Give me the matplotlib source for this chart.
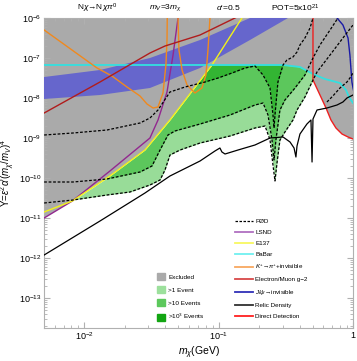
import numpy as np
import matplotlib
matplotlib.use("Agg")
import matplotlib.pyplot as plt
from matplotlib.patches import Patch
from matplotlib.lines import Line2D

plt.rcParams['font.family'] = ['Liberation Sans', 'DejaVu Sans']
plt.rcParams['mathtext.fontset'] = 'custom'
plt.rcParams['mathtext.rm'] = 'Liberation Sans'
plt.rcParams['mathtext.it'] = 'Liberation Sans:italic'

# ---- data (log10 of m_chi [GeV], log10 of Y) ----
lsnd_logm = [-2.30, -2.09, -1.81, -1.512, -1.452, -1.385, -1.34, -1.303, -1.29]
lsnd_logY = [-11.0, -10.575, -9.825, -9.0, -8.55, -7.85, -6.925, -6.0, -5.5]

e137_logm = [-2.30, -2.09, -1.81, -1.549, -1.363, -1.05, -0.827, -0.78]
e137_logY = [-10.85, -10.575, -9.95, -9.3, -8.55, -7.175, -6.0, -5.7]

babar_logm = [-2.30, -0.521, -0.395, -0.298, -0.209, -0.097, -0.052, -0.030, 0.0]
babar_logY = [-7.175, -7.175, -7.225, -7.4, -7.525, -7.625, -7.8, -7.975, -8.125]

kaon_logm = [-2.30, -1.906, -1.795, -1.683, -1.586, -1.534, -1.489, -1.452, -1.415, -1.393,
             -1.385, -1.383, -1.34, -1.303, -1.296, -1.273, -1.236, -1.177, -1.125, -1.095,
             -1.080, -1.065, -1.06]
kaon_logY = [-6.3, -7.25, -7.45, -7.725, -7.95, -8.15, -8.25, -8.225, -7.875, -7.175,
             -6.55, -6.0, -5.3, -6.0, -6.8, -7.3, -7.675, -7.875, -7.75, -7.425,
             -6.8, -6.0, -5.7]

gm2_logm = [-2.30, -1.884, -1.512, -1.400, -1.139, -0.879, -0.85]
gm2_logY = [-8.375, -7.6, -6.875, -6.7, -6.425, -6.0, -5.95]

band_up_logm = [-2.30, -1.884, -1.512, -1.139, -0.767, -0.6]
band_up_logY = [-7.475, -7.3, -7.0, -6.55, -6.0, -5.6]
band_lo_logm = [-2.30, -1.884, -1.512, -1.139, -0.767, -0.484, -0.4]
band_lo_logY = [-8.025, -7.925, -7.75, -7.25, -6.55, -6.0, -5.8]

jpsi_logm = [-0.16, -0.119, -0.075, -0.037, -0.023, -0.008, 0.0, 0.01]
jpsi_logY = [-5.7, -6.0, -6.175, -6.5, -6.925, -7.6, -7.75, -7.9]

dd_logm = [-0.298, -0.298, -0.246, -0.201, -0.164, -0.127, -0.082, -0.037, 0.0]
dd_logY = [-5.9, -7.55, -7.925, -8.25, -8.55, -8.75, -8.9, -8.975, -9.025]

relic_logm = [-2.30, -1.884, -1.549, -1.363, -1.139, -1.028, -0.991, -0.976, -0.953, -0.856,
              -0.730, -0.618, -0.521, -0.469, -0.439, -0.425, -0.417, -0.395, -0.343, -0.313,
              -0.305, -0.298, -0.268, -0.194, -0.119, -0.075, -0.045, 0.0]
relic_logY = [-11.925, -11.075, -10.375, -9.95, -9.575, -9.325, -9.25, -9.35, -9.4, -9.3,
              -9.175, -9.0, -8.975, -9.1, -9.25, -9.475, -9.2, -8.9, -8.65, -8.55,
              -9.6, -8.525, -8.3, -8.25, -8.175, -8.1, -8.0, -7.925]

pod1000_logm = [-2.30, -2.085, -1.832, -1.586, -1.512, -1.452, -1.363, -1.251, -1.102, -1.005,
                -0.901, -0.804, -0.730, -0.670, -0.618, -0.596, -0.588, -0.581, -0.559, -0.521,
                -0.492, -0.447, -0.417, -0.395, -0.358, -0.320, -0.298, -0.276]
pod1000_logY = [-8.925, -8.875, -8.8, -8.625, -8.5, -8.3, -7.85, -7.725, -7.6, -7.5,
                -7.375, -7.25, -7.2, -7.425, -7.75, -8.425, -8.75, -8.425, -7.6, -7.175,
                -7.05, -6.975, -6.85, -6.675, -6.5, -6.25, -6.0, -5.8]

pod10_logm = [-2.30, -2.085, -1.832, -1.586, -1.497, -1.437, -1.378, -1.326, -1.139, -0.916,
              -0.730, -0.670, -0.633, -0.603, -0.588, -0.574, -0.544, -0.507, -0.432, -0.358,
              -0.298, -0.246, -0.171, -0.112, -0.082]
pod10_logY = [-10.1, -10.1, -10.025, -9.85, -9.7, -9.3, -8.925, -8.825, -8.65, -8.425,
              -8.175, -8.125, -8.425, -9.05, -9.55, -9.05, -8.3, -8.05, -7.75, -7.425,
              -7.0, -6.675, -6.3, -6.0, -5.8]

pod1_logm = [-2.30, -2.085, -1.832, -1.661, -1.512, -1.437, -1.400, -1.363, -1.288, -1.139,
             -0.916, -0.730, -0.655, -0.618, -0.596, -0.581, -0.566, -0.544, -0.507, -0.447,
             -0.417, -0.358, -0.298, -0.268, -0.171, -0.075, 0.0]
pod1_logY = [-10.625, -10.55, -10.425, -10.35, -10.175, -10.05, -9.8, -9.425, -9.3, -9.125,
             -8.95, -8.75, -8.7, -9.05, -9.675, -10.075, -9.625, -9.05, -8.85, -8.55,
             -8.3, -7.975, -7.55, -7.35, -6.925, -6.5, -6.175]

pod_hi_logm = [-0.194, -0.150, -0.097, -0.045, -0.023, 0.0]
pod_hi_logY = [-8.1, -7.95, -7.75, -7.6, -7.5, -7.375]

header_texts = [r"N$\chi$→N$\chi\pi^0$", r"$m_V$=3$m_\chi$", r"$\alpha$'=0.5", r"POT=5x10$^{21}$"]
xtick_vals = [0.01, 0.1, 1.0]
xtick_labels = [r"$10^{-2}$", r"$10^{-1}$", "1"]

# ---- colors ----
c_grey = '#aaaaaa'
c_g1 = '#98dc98'
c_g10 = '#5cc75c'
c_g1000 = '#33b533'
c_band = '#6666cc'

fig = plt.figure(figsize=(3.57, 3.61), dpi=100)
ax = fig.add_axes([44/357, 1-328/361, 309/357, 310/361])
ax.set_xscale('log')
ax.set_yscale('log')
xmin, xmax = 10**-2.301, 1.0
ymin, ymax = 10**-13.75, 1e-6
ax.set_xlim(xmin, xmax)
ax.set_ylim(ymin, ymax)

xg = np.linspace(-2.301, 0.0, 3000)
INF = 5.0

def curve(lm, ly):
    lm = np.asarray(lm); ly = np.asarray(ly)
    return np.interp(xg, lm, ly, left=INF, right=INF)

G = np.minimum.reduce([
    curve(lsnd_logm, lsnd_logY),
    curve(e137_logm, e137_logY),
    curve(babar_logm, babar_logY),
    curve(dd_logm[1:], dd_logY[1:]),
])

X = 10**xg
ax.fill_between(X, 10**G, 1e-4, color=c_grey, lw=0, zorder=1)

for lm, ly, c in [(pod1_logm, pod1_logY, c_g1), (pod10_logm, pod10_logY, c_g10),
                  (pod1000_logm, pod1000_logY, c_g1000)]:
    C = np.interp(xg, lm, ly, left=INF, right=INF)
    ax.fill_between(X, 10**C, 10**G, where=C < G, interpolate=True, color=c, lw=0, zorder=2)

bu = np.interp(xg, band_up_logm, band_up_logY, right=INF)
bl = np.interp(xg, band_lo_logm, band_lo_logY, right=INF)
ax.fill_between(X, 10**bl, 10**bu, color=c_band, lw=0, zorder=3)

def p(lm, ly, **kw):
    ax.plot(10**np.asarray(lm), 10**np.asarray(ly), **kw)

dash = dict(color='black', lw=0.9, ls=(0, (2.2, 1.4)), zorder=6)
p(pod1_logm, pod1_logY, **dash)
p(pod10_logm, pod10_logY, **dash)
p(pod1000_logm, pod1000_logY, **dash)
p(pod_hi_logm, pod_hi_logY, **dash)

p(lsnd_logm, lsnd_logY, color='#92278f', lw=1.0, zorder=5)
p(e137_logm, e137_logY, color='#f2f21a', lw=1.0, zorder=5)
p(babar_logm, babar_logY, color='#33e0e0', lw=1.3, zorder=5)
p(kaon_logm, kaon_logY, color='#f0891e', lw=1.0, zorder=5)
p(gm2_logm, gm2_logY, color='#b01c1c', lw=1.0, zorder=5)
p(jpsi_logm, jpsi_logY, color='#1a1aa6', lw=1.0, zorder=5)
p(dd_logm, dd_logY, color='#ee2020', lw=1.0, zorder=5)
p(relic_logm, relic_logY, color='black', lw=0.9, zorder=6)

# axes styling
for s in ax.spines.values():
    s.set_color('#b0b0b0')
    s.set_linewidth(0.8)
ax.tick_params(which='both', direction='in', top=True, right=True, color='#b0b0b0',
               labelsize=6.5, pad=2)
ax.tick_params(which='major', length=4)
ax.tick_params(which='minor', length=2)
ax.set_xticks(xtick_vals)
ax.set_xticklabels(xtick_labels)
ax.set_yticks([10.0**k for k in range(-13, -5)])
ax.set_xlabel(r"$m_\chi$(GeV)", fontsize=7.5)
ax.xaxis.set_label_coords(0.5, -0.055)
ax.set_ylabel(r"Y=$\epsilon^2\alpha$'($m_\chi$/$m_V$)$^4$", fontsize=7)
ax.yaxis.set_label_coords(-0.088, 0.5)

for t, xc in zip(header_texts, [97, 165, 228, 295]):
    fig.text(xc/357, 1-8/361, t, ha='center', va='center', fontsize=6)

# legends
leg1_handles = [Patch(color=c_grey), Patch(color='#9ce09c'), Patch(color='#5cc85c'), Patch(color='#12a512')]
leg1_labels = ['Excluded', '>1 Event', '>10 Events', r'>10$^3$ Events']
leg1 = ax.legend(leg1_handles, leg1_labels, loc='upper left',
                 bbox_to_anchor=(157/357, 1-273/361), bbox_transform=fig.transFigure,
                 frameon=False, fontsize=4.6, handlelength=1.3, handleheight=1.3,
                 handletextpad=0.45, labelspacing=0.95, borderpad=0, borderaxespad=0)
ax.add_artist(leg1)

leg2_handles = [Line2D([], [], color='black', ls=(0, (2, 1.2)), lw=0.9),
                Line2D([], [], color='#b070c0', lw=1.3),
                Line2D([], [], color='#f8f860', lw=1.3),
                Line2D([], [], color='#70f0f0', lw=1.3),
                Line2D([], [], color='#f8a860', lw=1.3),
                Line2D([], [], color='#d84848', lw=1.3),
                Line2D([], [], color='#3030b8', lw=1.3),
                Line2D([], [], color='#303030', lw=1.3),
                Line2D([], [], color='#ff2020', lw=1.3)]
leg2_labels = ['PØD', 'LSND', 'E137', 'BaBar', r'$K^{+}$→$\pi^{+}$+invisible', 'Electron/Muon g−2',
               r'$J/\psi$→invisible', 'Relic Density', 'Direct Detection']
leg2 = ax.legend(leg2_handles, leg2_labels, loc='upper left',
                 bbox_to_anchor=(235/357, 1-219/361), bbox_transform=fig.transFigure,
                 frameon=False, fontsize=4.5, handlelength=2.8, handletextpad=0.4,
                 labelspacing=0.9, borderpad=0, borderaxespad=0)

fig.savefig('out.png', dpi=100)
